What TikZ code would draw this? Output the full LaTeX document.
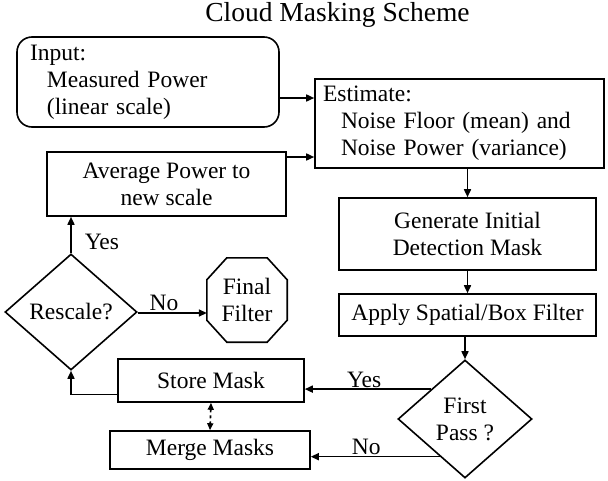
\documentclass[tikz,border=0pt]{standalone}
\usepackage{fontspec}
\setmainfont{Liberation Serif}
\usetikzlibrary{arrows.meta,shapes.geometric,calc}
\begin{document}
\begin{tikzpicture}[x=1pt,y=-1pt,
  every node/.style={font=\fontsize{23.5}{27}\selectfont},
  box/.style={draw,line width=1.6pt,inner sep=0pt,align=center},
  decision/.style={draw,diamond,line width=1.6pt,inner sep=0pt,align=center},
  flow/.style={line width=1.6pt,-{Triangle[length=8pt,width=7pt]}},
  lbl/.style={inner sep=1pt}]
\useasboundingbox (0,0) rectangle (608,480);

\node[font=\fontsize{27.5}{30}\selectfont] (title) at (337.5,15) {Cloud Masking Scheme};

% process boxes
\node[box,rounded corners=15pt,minimum width=262pt,minimum height=90pt,
      text width=236pt,align=left] (in) at (148,82)
  {Input:\\\hspace*{17pt}Measured Power\\\hspace*{17pt}(linear scale)};
\node[box,minimum width=289pt,minimum height=89pt,text width=273pt,align=left]
  (est) at (459.5,123.5)
  {Estimate:\\\hspace*{18pt}Noise Floor (mean) and\\\hspace*{18pt}Noise Power (variance)};
\node[box,minimum width=239pt,minimum height=64pt] (avg) at (166.5,184)
  {Average Power to\\new scale};
\node[box,minimum width=257pt,minimum height=72pt] (gen) at (467.5,234)
  {Generate Initial\\Detection Mask};
\node[box,minimum width=257pt,minimum height=42pt] (app) at (467.5,315)
  {Apply Spatial/Box Filter};
\node[box,minimum width=186pt,minimum height=43pt] (store) at (211,380.5)
  {Store Mask};
\node[box,minimum width=200pt,minimum height=38pt] (merge) at (210,450)
  {Merge Masks};

% decisions
\node[decision,minimum width=134pt,minimum height=118pt] (fp) at (465,419)
  {First\\Pass ?};
\node[decision,minimum width=132pt,minimum height=116pt] (rs) at (71,312)
  {Rescale?};

% terminal octagon
\node[minimum width=80pt,minimum height=84pt,inner sep=0pt,align=center]
  (ff) at (247,300) {Final\\Filter};
\draw[line width=1.6pt]
  ([xshift=20pt]ff.north west) -- ([xshift=-20pt]ff.north east)
  -- ([yshift=-22pt]ff.north east) -- ([yshift=22pt]ff.south east)
  -- ([xshift=-20pt]ff.south east) -- ([xshift=20pt]ff.south west)
  -- ([yshift=22pt]ff.south west) -- ([yshift=-22pt]ff.north west) -- cycle;

% connectors
\draw[flow] ([yshift=-16pt]in.east) -- ([yshift=-16pt]in.east -| est.west);
\draw[flow] ([yshift=27pt]avg.east) -- ([yshift=27pt]avg.east -| est.west);
\draw[flow] (gen.north |- est.south) -- (gen.north);
\draw[flow] (gen.south) -- (app.north);
\draw[flow] (fp.north |- app.south) -- (fp.north);
\draw[flow] (fp.north west) -- node[lbl,above,pos=0.53] {Yes} (fp.north west -| store.east);
\coordinate (fpno) at ($(fp.west)!0.63!(fp.south)$);
\draw[flow] (fpno) -- node[lbl,above,pos=0.57] {No} (fpno -| merge.east);
\draw[flow] ([yshift=-14pt]store.west) -| (rs.south);
\draw[flow] (rs.north) -- node[lbl,right,pos=0.3,xshift=12pt] {Yes} (rs.north |- avg.south);
\draw[flow] ([yshift=-1pt]rs.east) -- node[lbl,above,pos=0.38] {No} ([yshift=-1pt]rs.east -| ff.west);
\draw[line width=1.6pt,dashed,{Triangle[length=7pt,width=6pt]}-{Triangle[length=7pt,width=6pt]}]
  (store.south) -- (merge.north);
\end{tikzpicture}
\end{document}
